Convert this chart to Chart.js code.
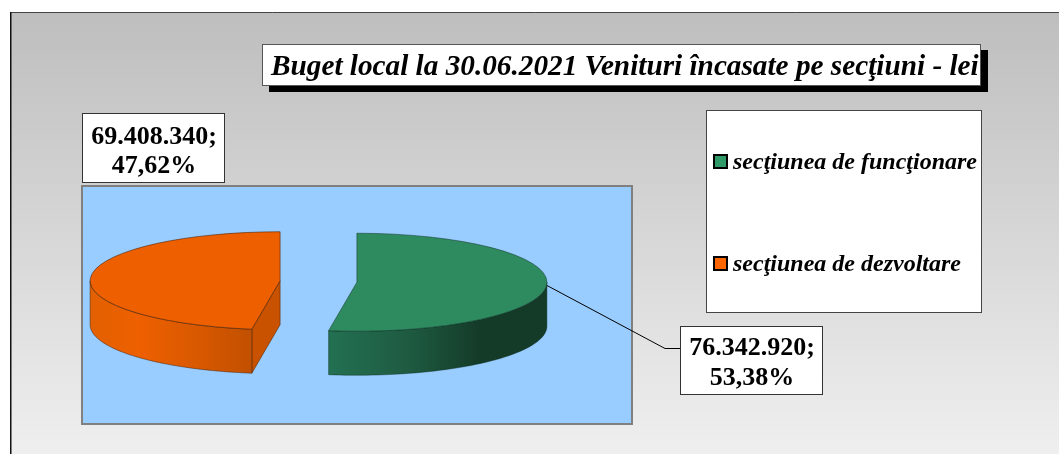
<!DOCTYPE html>
<html><head><meta charset="utf-8">
<style>html,body{margin:0;padding:0;background:#fff}canvas{display:block;filter:blur(.45px)}#w{width:1059px;height:454px;position:relative;overflow:hidden}</style>
<script src="https://cdn.jsdelivr.net/npm/chart.js@4"></script></head>
<body><div id="w"><canvas id="c" width="1059" height="454"></canvas></div>
<script>
const titleText = "Buget local la 30.06.2021 Venituri încasate pe secţiuni - lei";
const categories = ["secţiunea de funcţionare", "secţiunea de dezvoltare"];
const values = [76342920, 69408340];
const valueLabels = ["76.342.920;", "69.408.340;"];
const percentLabels = ["53,38%", "47,62%"];
const sliceColors = ["#2E8B5F", "#EE5F00"];
const legendColors = ["#2F9A68", "#FF6600"];

const SERIF = '"Liberation Serif","Times New Roman",serif';
const TILT = 49 / 190, DEPTH = 44, EXPLODE = 38.5;

function box(ctx, x, y, w, h, fill, stroke, lw) {
  ctx.fillStyle = fill; ctx.fillRect(x, y, w, h);
  ctx.strokeStyle = stroke; ctx.lineWidth = lw;
  ctx.strokeRect(x + .5, y + .5, w - 1, h - 1);
}
function shift(el) {
  const mid = (el.startAngle + el.endAngle) / 2;
  return { dx: Math.cos(mid) * EXPLODE, dy: Math.sin(mid) * EXPLODE };
}
function pt(el, a, r) {
  const s = shift(el);
  return [el.x + s.dx + Math.cos(a) * r, el.y + (s.dy + Math.sin(a) * r) * TILT];
}
function wall(ctx, el, stops, lineCol) {
  const from = Math.max(el.startAngle, 0), to = Math.min(el.endAngle, Math.PI);
  const r = el.outerRadius, steps = 60, p = [];
  for (let i = 0; i <= steps; i++) p.push(pt(el, from + (to - from) * i / steps, r));
  ctx.beginPath();
  p.forEach((q, i) => i ? ctx.lineTo(q[0], q[1]) : ctx.moveTo(q[0], q[1]));
  for (let i = steps; i >= 0; i--) ctx.lineTo(p[i][0], p[i][1] + DEPTH);
  ctx.closePath();
  const xs = p.map(q => q[0]), g = ctx.createLinearGradient(Math.min(...xs), 0, Math.max(...xs), 0);
  stops.forEach(st => g.addColorStop(st[0], st[1]));
  ctx.fillStyle = g; ctx.fill();
  ctx.strokeStyle = lineCol; ctx.lineWidth = .7; ctx.stroke();
}
function outline(ctx, el, col) {
  const c = pt(el, 0, 0);
  ctx.save();
  ctx.beginPath();
  ctx.moveTo(c[0], c[1]);
  ctx.ellipse(c[0], c[1], el.outerRadius, el.outerRadius * TILT, 0, el.startAngle, el.endAngle);
  ctx.closePath();
  ctx.strokeStyle = col; ctx.lineWidth = .8; ctx.stroke();
  ctx.restore();
}

const page = {
  id: "page",
  beforeDraw(chart) {
    const ctx = chart.ctx, W = chart.width, H = chart.height;
    ctx.save();
    ctx.fillStyle = "#fff"; ctx.fillRect(0, 0, W, H);
    const g = ctx.createLinearGradient(0, 13, 0, 454);
    g.addColorStop(0, "#BEBEBE"); g.addColorStop(1, "#EFEFEF");
    ctx.fillStyle = g; ctx.fillRect(10, 12, 1049, 442);
    ctx.strokeStyle = "#444"; ctx.lineWidth = 1;
    ctx.beginPath(); ctx.moveTo(10, 12.5); ctx.lineTo(1059, 12.5); ctx.stroke();
    ctx.fillStyle = "#111"; ctx.fillRect(10, 12, 1.5, 442);
    ctx.fillStyle = "#99CCFF"; ctx.fillRect(82, 186, 550, 238);
    ctx.strokeStyle = "#808080"; ctx.lineWidth = 2; ctx.strokeRect(82, 186, 550, 238);
    ctx.restore();
  },
  beforeDatasetsDraw(chart) {
    const ctx = chart.ctx, arcs = chart.getDatasetMeta(0).data;
    const gLine = "rgba(10,40,25,.6)", oLine = "rgba(70,30,0,.7)";
    ctx.save();
    wall(ctx, arcs[0], [[0, "#237052"], [.35, "#1E5C42"], [.7, "#143A28"], [1, "#143A28"]], gLine);
    const o = arcs[1], p0 = pt(o, o.startAngle, o.outerRadius), c = pt(o, 0, 0);
    ctx.beginPath(); ctx.moveTo(p0[0], p0[1]); ctx.lineTo(c[0], c[1]); ctx.lineTo(c[0], c[1] + DEPTH); ctx.lineTo(p0[0], p0[1] + DEPTH); ctx.closePath();
    ctx.fillStyle = "#C85200"; ctx.fill(); ctx.strokeStyle = oLine; ctx.lineWidth = .7; ctx.stroke();
    wall(ctx, o, [[0, "#E26000"], [.3, "#EE6000"], [.6, "#DC5A00"], [1, "#C25000"]], oLine);
    arcs.forEach((el, i) => {
      const s = shift(el);
      ctx.save();
      ctx.translate(s.dx, el.y + s.dy * TILT);
      ctx.scale(1, TILT);
      ctx.translate(0, -el.y);
      el.draw(ctx);
      ctx.restore();
      outline(ctx, el, i ? oLine : gLine);
    });
    ctx.restore();
    return false;
  },
  afterDraw(chart) {
    const ctx = chart.ctx;
    ctx.save();
    ctx.strokeStyle = "#000"; ctx.lineWidth = 1;
    ctx.beginPath(); ctx.moveTo(547, 285.5); ctx.lineTo(665, 348.5); ctx.lineTo(680, 348.5); ctx.stroke();
    box(ctx, 269, 50, 719, 42, "#000", "#000", 1);
    box(ctx, 262, 44, 719, 42, "#fff", "#555", 1);
    ctx.fillStyle = "#000"; ctx.textAlign = "left"; ctx.textBaseline = "alphabetic";
    ctx.font = "italic bold 29.25px " + SERIF;
    ctx.fillText(titleText, 271, 75);
    box(ctx, 706, 110, 276, 203, "#fff", "#444", 1);
    ctx.font = "italic bold 24px " + SERIF;
    const ly = [161, 263];
    categories.forEach((t, i) => {
      ctx.fillStyle = "#000"; ctx.fillRect(713, ly[i] - 7, 15, 15);
      ctx.fillStyle = legendColors[i]; ctx.fillRect(715, ly[i] - 5, 11, 11);
      ctx.fillStyle = "#000"; ctx.fillText(t, 733, ly[i] + 8);
    });
    const lb = [[680, 326, 143, 69, 29, 59], [82, 113, 143, 70, 31, 60]];
    lb.forEach((b, i) => {
      box(ctx, b[0], b[1], b[2], b[3], "#fff", "#333", 1);
      ctx.fillStyle = "#000"; ctx.textAlign = "center"; ctx.font = "bold 26px " + SERIF;
      ctx.fillText(valueLabels[i], b[0] + b[2] / 2 + .5, b[1] + b[4]);
      ctx.fillText(percentLabels[i], b[0] + b[2] / 2 + .5, b[1] + b[5]);
      ctx.textAlign = "left";
    });
    ctx.restore();
  }
};

new Chart(document.getElementById("c"), {
  type: "pie",
  data: { labels: categories, datasets: [{ data: values, backgroundColor: sliceColors, borderWidth: 0 }] },
  options: {
    responsive: false, animation: false, radius: 190,
    layout: { padding: { left: 0, right: 422, top: 131, bottom: 22 } },
    plugins: { legend: { display: false }, title: { display: false }, tooltip: { enabled: false } }
  },
  plugins: [page]
});
</script></body></html>
